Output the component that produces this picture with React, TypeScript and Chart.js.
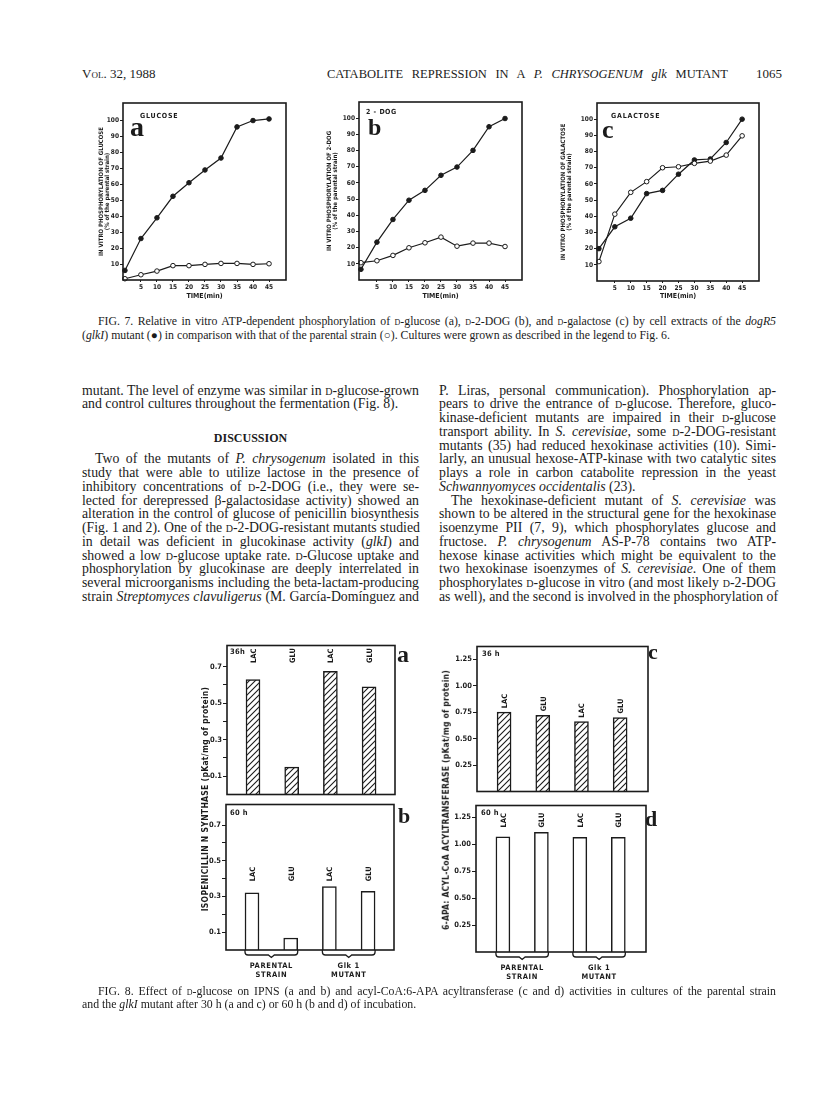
import React, { useEffect, useRef } from 'react';
import { Chart, registerables } from 'chart.js';

Chart.register(...registerables);

// ---------------- data ----------------
const TIME_MIN = [0, 5, 10, 15, 20, 25, 30, 35, 40, 45];
const GLUCOSE_MUTANT = [6, 26, 39, 52.5, 61, 69, 76.5, 96, 100, 101];
const GLUCOSE_PARENTAL = [0.8, 3.3, 5.6, 9, 9, 9.8, 10.4, 10.4, 9.8, 10.2];
const DOG_MUTANT = [6.6, 23.4, 37.4, 49.3, 55.4, 64.7, 69.8, 80.1, 94.7, 99.8];
const DOG_PARENTAL = [10.7, 11.9, 15.2, 19.9, 23, 26.5, 20.9, 22.8, 22.8, 20.7];
const GALACTOSE_MUTANT = [20, 33.5, 38.8, 54, 56, 66, 74.8, 75.4, 85.6, 100];
const GALACTOSE_PARENTAL = [12, 41.3, 54.8, 61.4, 70, 70.6, 72.7, 74.1, 77.8, 89.7];
const TIME_TICKS = [5, 10, 15, 20, 25, 30, 35, 40, 45];
const PERCENT_TICKS = [10, 20, 30, 40, 50, 60, 70, 80, 90, 100];

const MEDIA = ['LAC', 'GLU', 'LAC', 'GLU'];
const IPNS_36H = [0.63, 0.15, 0.675, 0.59];
const IPNS_60H = [0.32, 0.067, 0.355, 0.328];
const ACYL_36H = [0.75, 0.72, 0.66, 0.7];
const ACYL_60H = [1.07, 1.11, 1.065, 1.065];
const IPNS_TICKS = [0.1, 0.2, 0.3, 0.4, 0.5, 0.6, 0.7];
const IPNS_LABELED = ['0.1', '0.3', '0.5', '0.7'];
const ACYL_TICKS = [0.25, 0.5, 0.75, 1.0, 1.25];
const STRAIN_GROUPS = [[0, 1], [2, 3]];
const STRAIN_NAMES = [['PARENTAL', 'STRAIN'], ['Glk 1', 'MUTANT']];

// ---------------- styling ----------------
const INK = '#1b1b1b';
const SANS = "'Liberation Sans Narrow','DejaVu Sans Condensed','Liberation Sans',Arial,sans-serif";
const SERIF = "'Liberation Serif','Times New Roman',serif";

const framePlugin = {
  id: 'frameBox',
  afterDatasetsDraw(chart: any) {
    const { ctx, chartArea: a } = chart;
    ctx.save();
    ctx.strokeStyle = INK;
    ctx.lineWidth = 1.6;
    ctx.strokeRect(a.left, a.top, a.right - a.left, a.bottom - a.top);
    ctx.restore();
  },
};

const barLabelPlugin = {
  id: 'barLabels',
  afterDatasetsDraw(chart: any, _args: any, opts: any) {
    const { ctx } = chart;
    const meta = chart.getDatasetMeta(0);
    const ys = chart.scales.y;
    ctx.save();
    ctx.fillStyle = INK;
    ctx.font = `bold 7.5px ${SANS}`;
    ctx.textBaseline = 'middle';
    ctx.textAlign = 'left';
    meta.data.forEach((bar: any, i: number) => {
      const base = opts && opts.base != null ? ys.getPixelForValue(opts.base) : bar.y - 4;
      ctx.save();
      ctx.translate(bar.x + 1, base);
      ctx.rotate(-Math.PI / 2);
      ctx.fillText(MEDIA[i], 0, 0);
      ctx.restore();
    });
    ctx.restore();
  },
};

const bracketPlugin = {
  id: 'strainBrackets',
  afterDraw(chart: any, _args: any, opts: any) {
    if (!opts || !opts.show) return;
    const { ctx } = chart;
    const meta = chart.getDatasetMeta(0);
    const bottom = chart.chartArea.bottom;
    ctx.save();
    ctx.strokeStyle = INK;
    ctx.lineWidth = 1.3;
    ctx.fillStyle = INK;
    ctx.font = `bold 7.5px ${SANS}`;
    ctx.textAlign = 'center';
    ctx.textBaseline = 'middle';
    STRAIN_GROUPS.forEach((g, k) => {
      const a = meta.data[g[0]];
      const b = meta.data[g[1]];
      const x0 = a.x - a.width / 2;
      const x1 = b.x + b.width / 2;
      const cx = (x0 + x1) / 2;
      const yb = bottom + 5;
      const r = 3;
      ctx.beginPath();
      ctx.moveTo(x0, bottom);
      ctx.lineTo(x0, yb - r);
      ctx.quadraticCurveTo(x0, yb, x0 + r, yb);
      ctx.lineTo(cx - 3, yb);
      ctx.lineTo(cx, yb + 2.5);
      ctx.lineTo(cx + 3, yb);
      ctx.lineTo(x1 - r, yb);
      ctx.quadraticCurveTo(x1, yb, x1, yb - r);
      ctx.lineTo(x1, bottom);
      ctx.stroke();
      (ctx as any).letterSpacing = '0.6px';
      ctx.fillText(STRAIN_NAMES[k][0], cx, yb + 11);
      ctx.fillText(STRAIN_NAMES[k][1], cx, yb + 20);
    });
    ctx.restore();
  },
};

function makeHatch() {
  const s = 6;
  const c = document.createElement('canvas');
  c.width = s;
  c.height = s;
  const g = c.getContext('2d')!;
  g.fillStyle = '#fff';
  g.fillRect(0, 0, s, s);
  g.strokeStyle = INK;
  g.lineWidth = 1.1;
  g.beginPath();
  g.moveTo(0, s);
  g.lineTo(s, 0);
  g.moveTo(-2, 2);
  g.lineTo(2, -2);
  g.moveTo(s - 2, s + 2);
  g.lineTo(s + 2, s - 2);
  g.stroke();
  return g.createPattern(c, 'repeat');
}

const tickFont = (size: number) => ({ family: SANS, size, weight: 'bold' as const });

// ---------------- Fig. 7 line panels ----------------
const F7_TOP = 95;
const F7_BOTTOM = 306;

function buildLine(p: any) {
  const series = (vals: number[], fill: string) => ({
    data: TIME_MIN.map((t, i) => ({ x: t, y: vals[i] })),
    borderColor: INK,
    borderWidth: 1.2,
    pointRadius: 2.3,
    pointBorderWidth: 1,
    pointBorderColor: INK,
    pointBackgroundColor: fill,
    tension: 0,
    clip: false,
  });
  return {
    type: 'line',
    data: { datasets: [series(p.parental, '#fff'), series(p.mutant, INK)] },
    options: {
      animation: false,
      responsive: false,
      events: [],
      layout: { padding: { top: p.frameT - F7_TOP, right: 4, left: 0, bottom: 0 } },
      plugins: { legend: { display: false }, tooltip: { enabled: false } },
      scales: {
        x: {
          type: 'linear',
          min: -0.6,
          max: 50.3,
          afterBuildTicks: (s: any) => { s.ticks = TIME_TICKS.map((v) => ({ value: v })); },
          afterFit: (s: any) => { s.height = F7_BOTTOM - p.frameB; },
          grid: { display: true, drawOnChartArea: false, drawTicks: true, tickLength: 2, color: INK, lineWidth: 1 },
          border: { display: false },
          ticks: { color: INK, font: tickFont(6.5), padding: 1, maxRotation: 0, autoSkip: false },
          title: { display: true, text: 'TIME(min)', color: INK, font: { family: SANS, size: 7, weight: 'bold', lineHeight: 1.1 }, padding: { top: 0, bottom: 6 } },
        },
        y: {
          min: 0,
          max: p.ymax,
          afterBuildTicks: (s: any) => { s.ticks = PERCENT_TICKS.map((v) => ({ value: v })); },
          afterFit: (s: any) => { s.width = p.frameL - p.left; },
          grid: { display: true, drawOnChartArea: false, drawTicks: true, tickLength: 3, color: INK, lineWidth: 1 },
          border: { display: false },
          ticks: { color: INK, font: tickFont(6.5), padding: 1, autoSkip: false },
          title: { display: true, text: p.title, color: INK, font: { family: SANS, size: 6, weight: 'bold', lineHeight: 1.15 }, padding: { top: 9.5, bottom: 0 } },
        },
      },
    },
    plugins: [framePlugin],
  };
}

// ---------------- Fig. 8 bar panels ----------------
function buildBar(p: any) {
  return {
    type: 'bar',
    data: {
      datasets: [{
        data: p.values.map((v: number, i: number) => ({ x: i + 1, y: v })),
        backgroundColor: p.hatched ? makeHatch() : '#fff',
        borderColor: INK,
        borderWidth: 1.5,
        borderSkipped: 'bottom',
        barThickness: 14,
      }],
    },
    options: {
      animation: false,
      responsive: false,
      events: [],
      layout: { padding: { top: p.frameT - p.top, right: 4, left: 0, bottom: p.bottomPad } },
      plugins: {
        legend: { display: false },
        tooltip: { enabled: false },
        barLabels: { base: p.labelBase },
        strainBrackets: { show: p.brackets },
      },
      scales: {
        x: { type: 'linear', display: false, min: p.xmin, max: p.xmax, offset: false },
        y: {
          min: 0,
          max: p.ymax,
          afterBuildTicks: (s: any) => { s.ticks = p.ticks.map((v: number) => ({ value: v })); },
          afterFit: (s: any) => { s.width = p.frameL - p.left; },
          grid: { display: true, drawOnChartArea: false, drawTicks: true, tickLength: 4, color: INK, lineWidth: 1 },
          border: { display: false },
          ticks: { color: INK, font: tickFont(7.5), padding: 1, autoSkip: false, callback: p.fmt },
        },
      },
    },
    plugins: [framePlugin, barLabelPlugin, bracketPlugin],
  };
}

function ChartBox({ left, top, width, height, build }: any) {
  const ref = useRef<HTMLCanvasElement>(null);
  useEffect(() => {
    const chart = new Chart(ref.current as HTMLCanvasElement, build() as any);
    return () => chart.destroy();
  }, []);
  return (
    <canvas
      ref={ref}
      width={width}
      height={height}
      style={{ position: 'absolute', left, top, width, height, display: 'block' }}
    />
  );
}

function LinePanel(p: any) {
  const width = p.frameR + 4 - p.left;
  const height = F7_BOTTOM - F7_TOP;
  return <ChartBox left={p.left} top={F7_TOP} width={width} height={height} build={() => buildLine(p)} />;
}

function BarPanel(p: any) {
  const width = p.frameR + 4 - p.left;
  const height = p.frameB + p.bottomPad - p.top;
  return <ChartBox left={p.left} top={p.top} width={width} height={height} build={() => buildBar(p)} />;
}

const ipnsFmt = (v: number) => (IPNS_LABELED.includes(Number(v).toFixed(1)) ? Number(v).toFixed(1) : '');
const acylFmt = (v: number) => Number(v).toFixed(2);

// ---------------- text helpers ----------------
const SC = <span style={{ fontVariant: 'small-caps' }}>d</span>;

function Abs({ left, top, style, children }: any) {
  return <div style={{ position: 'absolute', left, top, whiteSpace: 'nowrap', color: INK, ...style }}>{children}</div>;
}

function TLine({ left, center, width, justify = true, size = 13.8, children }: any) {
  return (
    <div
      style={{
        position: 'absolute',
        left,
        top: center - 0.61 * size,
        width,
        fontFamily: SERIF,
        fontSize: size,
        lineHeight: `${size}px`,
        whiteSpace: 'nowrap',
        textAlign: justify ? 'justify' : 'left',
        textAlignLast: justify ? 'justify' : 'left',
        color: INK,
      } as any}
    >
      {children}
    </div>
  );
}

function VText({ cx, cy, size, children, spacing = 0 }: any) {
  return (
    <div
      style={{
        position: 'absolute',
        left: cx,
        top: cy,
        transform: 'translate(-50%,-50%) rotate(-90deg)',
        transformOrigin: 'center center',
        whiteSpace: 'nowrap',
        fontFamily: SANS,
        fontWeight: 'bold',
        fontSize: size,
        lineHeight: 1,
        letterSpacing: spacing,
        color: INK,
      }}
    >
      {children}
    </div>
  );
}

const small = (size: number, spacing = 0.8) => ({ fontFamily: SANS, fontWeight: 'bold', fontSize: size, letterSpacing: spacing, lineHeight: 1 });
const big = (size: number) => ({ fontFamily: SERIF, fontWeight: 'bold', fontSize: size, lineHeight: 1 });

const L_COL = 82;
const R_COL = 439;
const COL_W = 337;
const LINE0 = 392;
const STEP = 13.75;
const at = (k: number) => LINE0 + k * STEP;
const CAP = 11.8;

export default function App() {
  return (
    <div style={{ position: 'absolute', left: 0, top: 0, width: 816, height: 1093, background: '#fff', overflow: 'hidden' }}>
      {/* running header */}
      <Abs left={82} top={66} style={{ fontFamily: SERIF, fontSize: 13, lineHeight: '16px' }}>
        V<span style={{ fontVariant: 'small-caps' }}>ol</span>. 32, 1988
      </Abs>
      <div style={{ position: 'absolute', left: 327, top: 66, width: 401, fontFamily: SERIF, fontSize: 12.5, lineHeight: '16px', whiteSpace: 'nowrap', textAlign: 'justify', textAlignLast: 'justify', color: INK } as any}>
        CATABOLITE REPRESSION IN A <i>P. CHRYSOGENUM glk</i> MUTANT
      </div>
      <Abs left={756} top={66} style={{ fontFamily: SERIF, fontSize: 13, lineHeight: '16px' }}>1065</Abs>

      {/* Fig. 7 */}
      <LinePanel left={88} frameL={123} frameR={287} frameT={103} frameB={280} ymax={111}
        mutant={GLUCOSE_MUTANT} parental={GLUCOSE_PARENTAL}
        title={['IN VITRO PHOSPHORYLATION OF GLUCOSE', '(% of the parental strain)']} />
      <LinePanel left={316} frameL={359} frameR={523} frameT={102} frameB={280} ymax={110}
        mutant={DOG_MUTANT} parental={DOG_PARENTAL}
        title={['IN VITRO PHOSPHORYLATION OF 2-DOG', '(% of the parental strain)']} />
      <LinePanel left={550} frameL={597} frameR={760} frameT={103} frameB={281} ymax={110}
        mutant={GALACTOSE_MUTANT} parental={GALACTOSE_PARENTAL}
        title={['IN VITRO PHOSPHORYLATION OF GALACTOSE', '(% of the parental strain)']} />

      <Abs left={140} top={113} style={small(7)}>GLUCOSE</Abs>
      <Abs left={130} top={113} style={big(28)}>a</Abs>
      <Abs left={366} top={109} style={small(7, 0.5)}>2 - DOG</Abs>
      <Abs left={368} top={115} style={big(24)}>b</Abs>
      <Abs left={611} top={113} style={small(7)}>GALACTOSE</Abs>
      <Abs left={602} top={117} style={big(26)}>c</Abs>

      <TLine left={98} center={323} width={678} size={CAP}>
        FIG. 7. Relative in vitro ATP-dependent phosphorylation of {SC}-glucose (a), {SC}-2-DOG (b), and {SC}-galactose (c) by cell extracts of the <i>dogR5</i>
      </TLine>
      <TLine left={82} center={337} width={694} size={CAP} justify={false}>
        (<i>glkI</i>) mutant (●) in comparison with that of the parental strain (○). Cultures were grown as described in the legend to Fig. 6.
      </TLine>

      {/* left column */}
      <TLine left={L_COL} center={at(0)} width={COL_W}>mutant. The level of enzyme was similar in {SC}-glucose-grown</TLine>
      <TLine left={L_COL} center={at(1)} width={COL_W} justify={false}>and control cultures throughout the fermentation (Fig. 8).</TLine>
      <div style={{ position: 'absolute', left: L_COL, top: 439 - 8, width: COL_W, textAlign: 'center', fontFamily: SERIF, fontWeight: 'bold', fontSize: 12, lineHeight: '14px', color: INK }}>DISCUSSION</div>
      <TLine left={L_COL + 13} center={at(5)} width={COL_W - 13}>Two of the mutants of <i>P. chrysogenum</i> isolated in this</TLine>
      <TLine left={L_COL} center={at(6)} width={COL_W}>study that were able to utilize lactose in the presence of</TLine>
      <TLine left={L_COL} center={at(7)} width={COL_W}>inhibitory concentrations of {SC}-2-DOG (i.e., they were se-</TLine>
      <TLine left={L_COL} center={at(8)} width={COL_W}>lected for derepressed β-galactosidase activity) showed an</TLine>
      <TLine left={L_COL} center={at(9)} width={COL_W}>alteration in the control of glucose of penicillin biosynthesis</TLine>
      <TLine left={L_COL} center={at(10)} width={COL_W}>(Fig. 1 and 2). One of the {SC}-2-DOG-resistant mutants studied</TLine>
      <TLine left={L_COL} center={at(11)} width={COL_W}>in detail was deficient in glucokinase activity (<i>glkI</i>) and</TLine>
      <TLine left={L_COL} center={at(12)} width={COL_W}>showed a low {SC}-glucose uptake rate. {SC}-Glucose uptake and</TLine>
      <TLine left={L_COL} center={at(13)} width={COL_W}>phosphorylation by glucokinase are deeply interrelated in</TLine>
      <TLine left={L_COL} center={at(14)} width={COL_W}>several microorganisms including the beta-lactam-producing</TLine>
      <TLine left={L_COL} center={at(15)} width={COL_W}>strain <i>Streptomyces clavuligerus</i> (M. García-Domínguez and</TLine>

      {/* right column */}
      <TLine left={R_COL} center={at(0)} width={COL_W}>P. Liras, personal communication). Phosphorylation ap-</TLine>
      <TLine left={R_COL} center={at(1)} width={COL_W}>pears to drive the entrance of {SC}-glucose. Therefore, gluco-</TLine>
      <TLine left={R_COL} center={at(2)} width={COL_W}>kinase-deficient mutants are impaired in their {SC}-glucose</TLine>
      <TLine left={R_COL} center={at(3)} width={COL_W}>transport ability. In <i>S. cerevisiae</i>, some {SC}-2-DOG-resistant</TLine>
      <TLine left={R_COL} center={at(4)} width={COL_W}>mutants (35) had reduced hexokinase activities (10). Simi-</TLine>
      <TLine left={R_COL} center={at(5)} width={COL_W}>larly, an unusual hexose-ATP-kinase with two catalytic sites</TLine>
      <TLine left={R_COL} center={at(6)} width={COL_W}>plays a role in carbon catabolite repression in the yeast</TLine>
      <TLine left={R_COL} center={at(7)} width={COL_W} justify={false}><i>Schwannyomyces occidentalis</i> (23).</TLine>
      <TLine left={R_COL + 12} center={at(8)} width={COL_W - 12}>The hexokinase-deficient mutant of <i>S. cerevisiae</i> was</TLine>
      <TLine left={R_COL} center={at(9)} width={COL_W}>shown to be altered in the structural gene for the hexokinase</TLine>
      <TLine left={R_COL} center={at(10)} width={COL_W}>isoenzyme PII (7, 9), which phosphorylates glucose and</TLine>
      <TLine left={R_COL} center={at(11)} width={COL_W}>fructose. <i>P. chrysogenum</i> AS-P-78 contains two ATP-</TLine>
      <TLine left={R_COL} center={at(12)} width={COL_W}>hexose kinase activities which might be equivalent to the</TLine>
      <TLine left={R_COL} center={at(13)} width={COL_W}>two hexokinase isoenzymes of <i>S. cerevisiae</i>. One of them</TLine>
      <TLine left={R_COL} center={at(14)} width={COL_W}>phosphorylates {SC}-glucose in vitro (and most likely {SC}-2-DOG</TLine>
      <TLine left={R_COL} center={at(15)} width={COL_W}>as well), and the second is involved in the phosphorylation of</TLine>

      {/* Fig. 8 */}
      <BarPanel left={200} top={640} frameL={227} frameR={395} frameT={645} frameB={796} bottomPad={4}
        ymax={0.816} xmin={0.328} xmax={4.67} values={IPNS_36H} hatched ticks={IPNS_TICKS} fmt={ipnsFmt}
        labelBase={0.72} brackets={false} />
      <BarPanel left={199} top={799} frameL={226} frameR={394} frameT={804} frameB={950} bottomPad={38}
        ymax={0.815} xmin={0.328} xmax={4.67} values={IPNS_60H} hatched={false} ticks={IPNS_TICKS} fmt={ipnsFmt}
        labelBase={0.385} brackets />
      <BarPanel left={450} top={641} frameL={477} frameR={648} frameT={646} frameB={793} bottomPad={4}
        ymax={1.371} xmin={0.3} xmax={4.72} values={ACYL_36H} hatched ticks={ACYL_TICKS} fmt={acylFmt}
        labelBase={null} brackets={false} />
      <BarPanel left={449} top={800} frameL={476} frameR={646} frameT={805} frameB={952} bottomPad={38}
        ymax={1.36} xmin={0.3} xmax={4.72} values={ACYL_60H} hatched={false} ticks={ACYL_TICKS} fmt={acylFmt}
        labelBase={1.155} brackets />

      <VText cx={205} cy={799} size={8.5} spacing={0.3}>ISOPENICILLIN N SYNTHASE (pKat/mg of protein)</VText>
      <VText cx={446} cy={800} size={8.5} spacing={0.2}>6-APA: ACYL-CoA ACYLTRANSFERASE (pKat/mg of protein)</VText>

      <Abs left={230} top={648} style={small(7.5, 0.3)}>36h</Abs>
      <Abs left={397} top={642} style={big(24)}>a</Abs>
      <Abs left={230} top={809} style={small(7.5, 0.3)}>60 h</Abs>
      <Abs left={398} top={805} style={big(22)}>b</Abs>
      <Abs left={482} top={650} style={small(7.5, 0.3)}>36 h</Abs>
      <Abs left={648} top={641} style={big(22)}>c</Abs>
      <Abs left={481} top={809} style={small(7.5, 0.3)}>60 h</Abs>
      <Abs left={645} top={808} style={big(22)}>d</Abs>

      <TLine left={98} center={993} width={678} size={CAP}>
        FIG. 8. Effect of {SC}-glucose on IPNS (a and b) and acyl-CoA:6-APA acyltransferase (c and d) activities in cultures of the parental strain
      </TLine>
      <TLine left={82} center={1006} width={694} size={CAP} justify={false}>
        and the <i>glkI</i> mutant after 30 h (a and c) or 60 h (b and d) of incubation.
      </TLine>
    </div>
  );
}
